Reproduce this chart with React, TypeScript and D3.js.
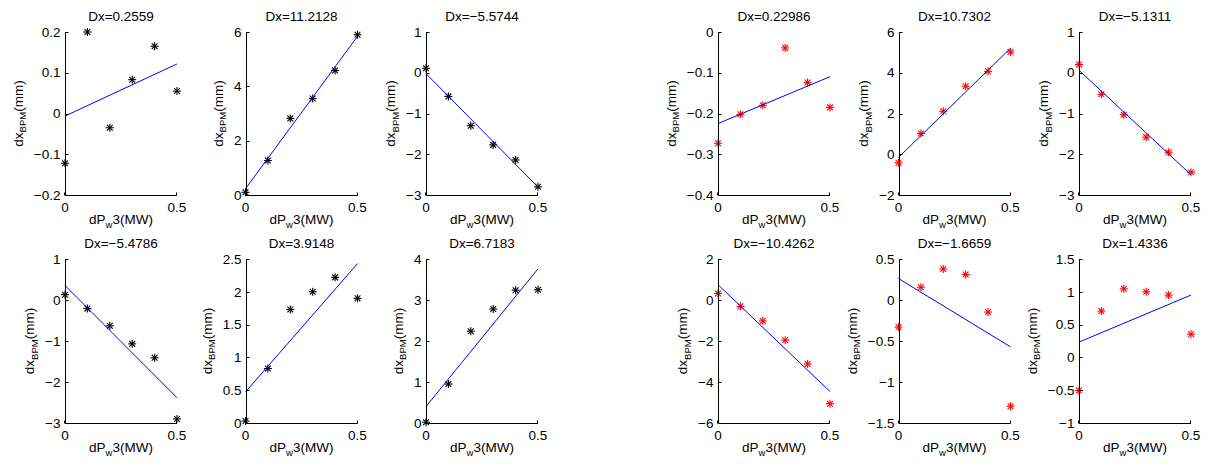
import React from 'react';
import * as d3 from 'd3';

// x positions (dP_w3, MW) shared by every panel
const xs = [0, 0.1, 0.2, 0.3, 0.4, 0.5];

// fitted slopes shown in the titles
const slopeLeft = [0.2559, 11.2128, -5.5744, -5.4786, 3.9148, 6.7183];
const slopeRight = [0.22986, 10.7302, -5.1311, -10.4262, -1.6659, 1.4336];
const titleLeft = ['Dx=0.2559', 'Dx=11.2128', 'Dx=\u22125.5744', 'Dx=\u22125.4786', 'Dx=3.9148', 'Dx=6.7183'];
const titleRight = ['Dx=0.22986', 'Dx=10.7302', 'Dx=\u22125.1311', 'Dx=\u221210.4262', 'Dx=\u22121.6659', 'Dx=1.4336'];

// measured dx_BPM (mm), left group (black markers)
const left1 = [-0.122, 0.2, -0.035, 0.083, 0.165, 0.055];
const left2 = [0.1, 1.27, 2.82, 3.55, 4.58, 5.9];
const left3 = [0.11, -0.58, -1.3, -1.77, -2.14, -2.8];
const left4 = [0.13, -0.21, -0.63, -1.07, -1.41, -2.9];
const left5 = [0.03, 0.83, 1.73, 2.0, 2.22, 1.9];
const left6 = [0.02, 0.95, 2.24, 2.78, 3.24, 3.25];

// right group (red markers)
const right1 = [-0.273, -0.202, -0.18, -0.039, -0.124, -0.185];
const right2 = [-0.42, 1.02, 2.11, 3.34, 4.07, 5.02];
const right3 = [0.2, -0.53, -1.03, -1.58, -1.95, -2.44];
const right4 = [0.32, -0.31, -1.02, -1.96, -3.12, -5.06];
const right5 = [-0.33, 0.156, 0.378, 0.31, -0.147, -1.295];
const right6 = [-0.505, 0.707, 1.045, 1.0, 0.95, 0.354];

// y axis ranges and tick steps
const domLeft: [number, number][] = [[-0.2, 0.2], [0, 6], [-3, 1], [-3, 1], [0, 2.5], [0, 4]];
const stepLeft = [0.1, 2, 1, 1, 0.5, 1];
const domRight: [number, number][] = [[-0.4, 0], [-2, 6], [-3, 1], [-6, 2], [-1.5, 0.5], [-1, 1.5]];
const stepRight = [0.1, 2, 1, 2, 0.5, 0.5];
const xTicks = [0, 0.5];

const W = 1208;
const H = 464;
const colLeft = [65, 245.5, 426];
const colRight = [718, 898.5, 1079];
const rows = [[32, 195], [259, 423]];
const plotW = 112;
const FONT = "'Liberation Sans', Arial, Helvetica, sans-serif";
const FS = 13.5;

let ctx: CanvasRenderingContext2D | null = null;
const textW = (s: string, size = FS) => {
  if (!ctx) ctx = document.createElement('canvas').getContext('2d');
  if (!ctx) return s.length * size * 0.55;
  ctx.font = `${size}px ${FONT}`;
  return ctx.measureText(s).width;
};

const fmt = (v: number) => String(+v.toFixed(3)).replace('-', '\u2212');

const Star = ({ cx, cy, color }: { cx: number; cy: number; color: string }) => {
  const r = 4;
  const d = r * 0.72;
  return (
    <g stroke={color} strokeWidth={1.1}>
      <line x1={cx - r} y1={cy} x2={cx + r} y2={cy} />
      <line x1={cx} y1={cy - r} x2={cx} y2={cy + r} />
      <line x1={cx - d} y1={cy - d} x2={cx + d} y2={cy + d} />
      <line x1={cx - d} y1={cy + d} x2={cx + d} y2={cy - d} />
    </g>
  );
};

type PanelProps = {
  x0: number; top: number; bottom: number; ys: number[]; slope: number;
  title: string; domain: [number, number]; step: number; color: string;
};

const Panel = ({ x0, top, bottom, ys, slope, title, domain, step, color }: PanelProps) => {
  const x = d3.scaleLinear().domain([0, 0.5]).range([x0, x0 + plotW]);
  const y = d3.scaleLinear().domain(domain).range([bottom, top]);
  const n = Math.round((domain[1] - domain[0]) / step);
  const yTicks = d3.range(n + 1).map(i => +(domain[0] + i * step).toFixed(4));
  // least-squares intercept for the given slope
  const b = d3.mean(ys)! - slope * d3.mean(xs)!;
  const fit = d3.line<number>().x(d => x(d)).y(d => y(b + slope * d));
  const ax = Math.round(x0) + 0.5;
  const ay = Math.round(bottom) + 0.5;
  const tickW = d3.max(yTicks, t => textW(fmt(t)))!;
  const labX = ax - 5 - tickW - 11;
  const midY = (top + bottom) / 2;
  return (
    <g fontFamily={FONT} fontSize={FS} fill="#000">
      {xs.map((v, i) => (
        <Star key={i} cx={x(v)} cy={y(ys[i])} color={color} />
      ))}
      <path d={fit([0, 0.5]) || ''} stroke="#0000ff" strokeWidth={1} fill="none" />
      <line x1={ax} y1={y(domain[1])} x2={ax} y2={ay} stroke="#000" />
      <line x1={ax} y1={ay} x2={x(0.5)} y2={ay} stroke="#000" />
      {yTicks.map(t => (
        <g key={t}>
          <line x1={ax} x2={ax + 3} y1={Math.round(y(t)) + 0.5} y2={Math.round(y(t)) + 0.5} stroke="#000" />
          <text x={ax - 5} y={y(t)} dy="0.35em" textAnchor="end">{fmt(t)}</text>
        </g>
      ))}
      {xTicks.map(t => (
        <g key={t}>
          <line x1={Math.round(x(t)) - 0.5} x2={Math.round(x(t)) - 0.5} y1={ay} y2={ay - 3} stroke="#000" />
          <text x={x(t)} y={bottom + 16.5} textAnchor="middle">{fmt(t)}</text>
        </g>
      ))}
      <text x={x0 + plotW / 2} y={top - 11} textAnchor="middle">{title}</text>
      <text x={x0 + plotW / 2} y={bottom + 29} textAnchor="middle">
        <tspan>dP</tspan>
        <tspan fontSize={9.5} dy={4}>w</tspan>
        <tspan dy={-4}>3(MW)</tspan>
      </text>
      <text transform={`translate(${labX},${midY}) rotate(-90)`} textAnchor="middle">
        <tspan>dx</tspan>
        <tspan fontSize={9.5} dy={3.5}>BPM</tspan>
        <tspan dy={-3.5}>(mm)</tspan>
      </text>
    </g>
  );
};

const App = () => {
  const leftData = [left1, left2, left3, left4, left5, left6];
  const rightData = [right1, right2, right3, right4, right5, right6];
  const panels: PanelProps[] = [];
  for (let i = 0; i < 6; i++) {
    const r = rows[Math.floor(i / 3)];
    panels.push({ x0: colLeft[i % 3], top: r[0], bottom: r[1], ys: leftData[i], slope: slopeLeft[i],
      title: titleLeft[i], domain: domLeft[i], step: stepLeft[i], color: '#000' });
    panels.push({ x0: colRight[i % 3], top: r[0], bottom: r[1], ys: rightData[i], slope: slopeRight[i],
      title: titleRight[i], domain: domRight[i], step: stepRight[i], color: '#ff0000' });
  }
  return (
    <svg width={W} height={H} style={{ position: 'absolute', left: 0, top: 0, background: '#fff' }}>
      <rect width={W} height={H} fill="#fff" />
      {panels.map((p, i) => <Panel key={i} {...p} />)}
    </svg>
  );
};

export default App;
